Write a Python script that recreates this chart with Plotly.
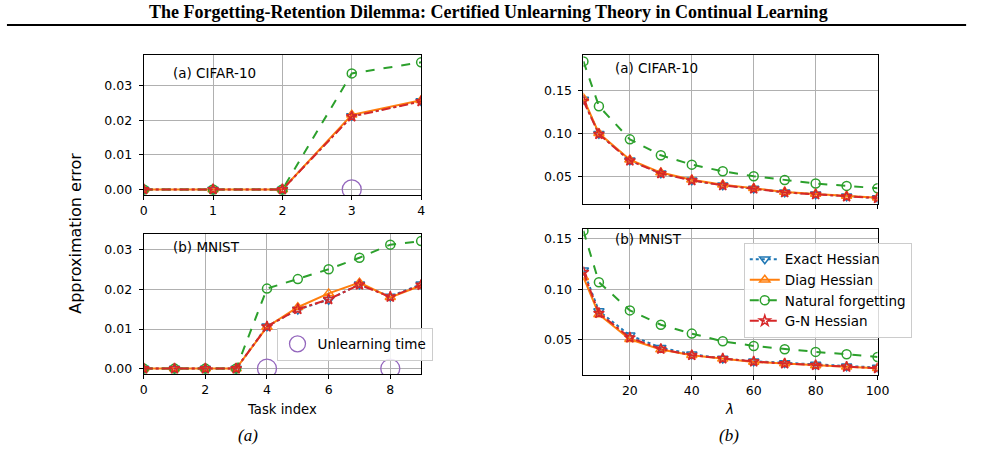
import plotly.graph_objects as go

# ---------------- data ----------------
task_cifar = [0, 1, 2, 3, 4]
cifar_exact = [0, 0, 0, 0.0213, 0.0256]
cifar_diag = [0, 0, 0, 0.0216, 0.0258]
cifar_natural = [0, 0, 0, 0.0336, 0.0368]
cifar_gn = [0, 0, 0, 0.0211, 0.0255]
cifar_unlearn_x = [3]
cifar_unlearn_y = [0]

task_mnist = [0, 1, 2, 3, 4, 5, 6, 7, 8, 9]
mnist_exact = [0, 0, 0, 0, 0.0107, 0.0149, 0.0174, 0.0213, 0.0182, 0.0213]
mnist_diag = [0, 0, 0, 0, 0.0105, 0.0155, 0.0190, 0.0217, 0.0180, 0.0210]
mnist_natural = [0, 0, 0, 0, 0.0202, 0.0226, 0.0251, 0.0280, 0.0313, 0.0322]
mnist_gn = [0, 0, 0, 0, 0.0106, 0.0150, 0.0175, 0.0212, 0.0181, 0.0211]
mnist_unlearn_x = [4, 8]
mnist_unlearn_y = [0, 0]

lam = [5, 10, 20, 30, 40, 50, 60, 70, 80, 90, 100]
lam_cifar_exact = [0.1396, 0.1000, 0.0692, 0.0542, 0.0462, 0.0404, 0.0365, 0.0322, 0.0300, 0.0275, 0.0256]
lam_cifar_diag = [0.1410, 0.1005, 0.0700, 0.0550, 0.0468, 0.0410, 0.0370, 0.0325, 0.0302, 0.0278, 0.0258]
lam_cifar_natural = [0.1838, 0.1319, 0.0935, 0.0750, 0.0642, 0.0565, 0.0508, 0.0465, 0.0423, 0.0396, 0.0369]
lam_cifar_gn = [0.1380, 0.0995, 0.0688, 0.0540, 0.0460, 0.0402, 0.0363, 0.0320, 0.0298, 0.0273, 0.0254]

lam_mnist_exact = [0.1190, 0.0786, 0.0546, 0.0424, 0.0359, 0.0316, 0.0290, 0.0273, 0.0257, 0.0240, 0.0227]
lam_mnist_diag = [0.1122, 0.0753, 0.0507, 0.0405, 0.0349, 0.0313, 0.0283, 0.0267, 0.0247, 0.0234, 0.0220]
lam_mnist_natural = [0.1580, 0.1072, 0.0793, 0.0651, 0.0563, 0.0487, 0.0441, 0.0408, 0.0382, 0.0359, 0.0332]
lam_mnist_gn = [0.1171, 0.0766, 0.0523, 0.0411, 0.0349, 0.0316, 0.0286, 0.0267, 0.0250, 0.0234, 0.0220]

series_names = ["Exact Hessian", "Diag Hessian", "Natural forgetting", "G-N Hessian"]
title_text = "The Forgetting-Retention Dilemma: Certified Unlearning Theory in Continual Learning"

# ---------------- styles ----------------
BLUE, ORANGE, GREEN, RED, PURPLE = "#1f77b4", "#ff7f0e", "#2ca02c", "#d62728", "#9467bd"
styles = [
    dict(color=BLUE, dash="dot", symbol="triangle-down-open", size=9),
    dict(color=ORANGE, dash="solid", symbol="triangle-up-open", size=9),
    dict(color=GREEN, dash="dash", symbol="circle-open", size=9),
    dict(color=RED, dash="dashdot", symbol="star-open", size=8),
]

W, H = 985, 453
def px(x):
    return x / W
def py(y):
    return 1 - y / H

fig = go.Figure()

panels = [
    ("x", "y", task_cifar, [cifar_exact, cifar_diag, cifar_natural, cifar_gn], False),
    ("x2", "y2", task_mnist, [mnist_exact, mnist_diag, mnist_natural, mnist_gn], False),
    ("x3", "y3", lam, [lam_cifar_exact, lam_cifar_diag, lam_cifar_natural, lam_cifar_gn], False),
    ("x4", "y4", lam, [lam_mnist_exact, lam_mnist_diag, lam_mnist_natural, lam_mnist_gn], True),
]
for xa, ya, xs, ys_list, show in panels:
    for name, ys, st in zip(series_names, ys_list, styles):
        fig.add_trace(go.Scatter(
            x=xs, y=ys, xaxis=xa, yaxis=ya, name=name, mode="lines+markers",
            line=dict(color=st["color"], dash=st["dash"], width=2),
            marker=dict(symbol=st["symbol"], size=st["size"], color=st["color"],
                        line=dict(color=st["color"], width=1.5)),
            showlegend=show, legend="legend",
        ))

# unlearning time markers
fig.add_trace(go.Scatter(
    x=cifar_unlearn_x, y=cifar_unlearn_y, xaxis="x", yaxis="y", mode="markers",
    marker=dict(symbol="circle-open", size=19, color=PURPLE, line=dict(color=PURPLE, width=1.3)),
    name="Unlearning time", showlegend=False))
fig.add_trace(go.Scatter(
    x=mnist_unlearn_x, y=mnist_unlearn_y, xaxis="x2", yaxis="y2", mode="markers",
    marker=dict(symbol="circle-open", size=19, color=PURPLE, line=dict(color=PURPLE, width=1.3)),
    name="Unlearning time", showlegend=True, legend="legend2"))

tick_font = dict(family="DejaVu Sans", size=12.5, color="black")
axis_common = dict(showline=True, linecolor="black", linewidth=1, mirror=True,
                   ticks="outside", ticklen=4, tickcolor="black",
                   showgrid=True, gridcolor="#b0b0b0", gridwidth=0.8,
                   zeroline=False, tickfont=tick_font)
yaxis_extra = dict(ticklabelstandoff=4)

LX0, LX1 = px(142), px(424)
RX0, RX1 = px(589), px(888)
leg_font = dict(family="DejaVu Sans", size=13.5, color="black")

fig.update_layout(
    width=W, height=H, margin=dict(l=0, r=0, t=0, b=0),
    paper_bgcolor="white", plot_bgcolor="white",
    xaxis=dict(domain=[LX0, LX1], range=[0, 4], tickvals=[0, 1, 2, 3, 4], anchor="y", **axis_common),
    yaxis=dict(domain=[py(196), py(55)], range=[-0.00165, 0.039], tickvals=[0, 0.01, 0.02, 0.03],
               tickformat=".2f", anchor="x", **axis_common, **yaxis_extra),
    xaxis2=dict(domain=[LX0, LX1], range=[0, 9], tickvals=[0, 2, 4, 6, 8], anchor="y2", **axis_common),
    yaxis2=dict(domain=[py(376), py(235)], range=[-0.00145, 0.034], tickvals=[0, 0.01, 0.02, 0.03],
                tickformat=".2f", anchor="x2", **axis_common, **yaxis_extra),
    xaxis3=dict(domain=[RX0, RX1], range=[5, 100], tickvals=[20, 40, 60, 80, 100],
                showticklabels=False, anchor="y3", **axis_common),
    yaxis3=dict(domain=[py(205), py(55)], range=[0.0185, 0.1915], tickvals=[0.05, 0.10, 0.15],
                tickformat=".2f", anchor="x3", **axis_common, **yaxis_extra),
    xaxis4=dict(domain=[RX0, RX1], range=[5, 100], tickvals=[20, 40, 60, 80, 100], anchor="y4",
                **axis_common),
    yaxis4=dict(domain=[py(377), py(230)], range=[0.015, 0.1599], tickvals=[0.05, 0.10, 0.15],
                tickformat=".2f", anchor="x4", **axis_common, **yaxis_extra),
    legend=dict(x=px(752), y=py(244), xanchor="left", yanchor="top",
                bgcolor="rgba(255,255,255,0.85)", bordercolor="#cccccc", borderwidth=1,
                font=leg_font, tracegroupgap=0, itemwidth=30),
    legend2=dict(x=px(277), y=py(329), xanchor="left", yanchor="top",
                 bgcolor="rgba(255,255,255,0.85)", bordercolor="#cccccc", borderwidth=1,
                 font=leg_font, itemwidth=30),
)

lab_font = dict(family="DejaVu Sans", size=13.5, color="black")
annos = [
    dict(text="<b>" + title_text + "</b>", x=0.5, y=py(12), xanchor="center", yanchor="middle",
         font=dict(family="Liberation Serif", size=18, color="black")),
    dict(text="(a) CIFAR-10", x=px(170), y=py(73), xanchor="left", yanchor="middle", font=lab_font),
    dict(text="(b) MNIST", x=px(170), y=py(248), xanchor="left", yanchor="middle", font=lab_font),
    dict(text="(a) CIFAR-10", x=px(619), y=py(68), xanchor="left", yanchor="middle", font=lab_font),
    dict(text="(b) MNIST", x=px(619), y=py(240), xanchor="left", yanchor="middle", font=lab_font),
    dict(text="Task index", x=px(283), y=py(411), xanchor="center", yanchor="middle",
         font=dict(family="DejaVu Sans", size=13.2, color="black")),
    dict(text="<i>λ</i>", x=px(737), y=py(411), xanchor="center", yanchor="middle",
         font=dict(family="DejaVu Sans", size=13.5, color="black")),
    dict(text="Approximation error", x=px(73), y=py(234), xanchor="center", yanchor="middle",
         textangle=-90, font=dict(family="DejaVu Sans", size=16, color="black")),
    dict(text="<i>(a)</i>", x=px(248), y=py(437), xanchor="center", yanchor="middle",
         font=dict(family="Liberation Serif", size=17, color="black")),
    dict(text="<i>(b)</i>", x=px(737), y=py(437), xanchor="center", yanchor="middle",
         font=dict(family="Liberation Serif", size=17, color="black")),
]
for a in annos:
    fig.add_annotation(xref="paper", yref="paper", showarrow=False, **a)

fig.add_shape(type="line", xref="paper", yref="paper", x0=px(3), x1=px(978), y0=py(25), y1=py(25),
              line=dict(color="black", width=2))

fig.write_html("out.html")
